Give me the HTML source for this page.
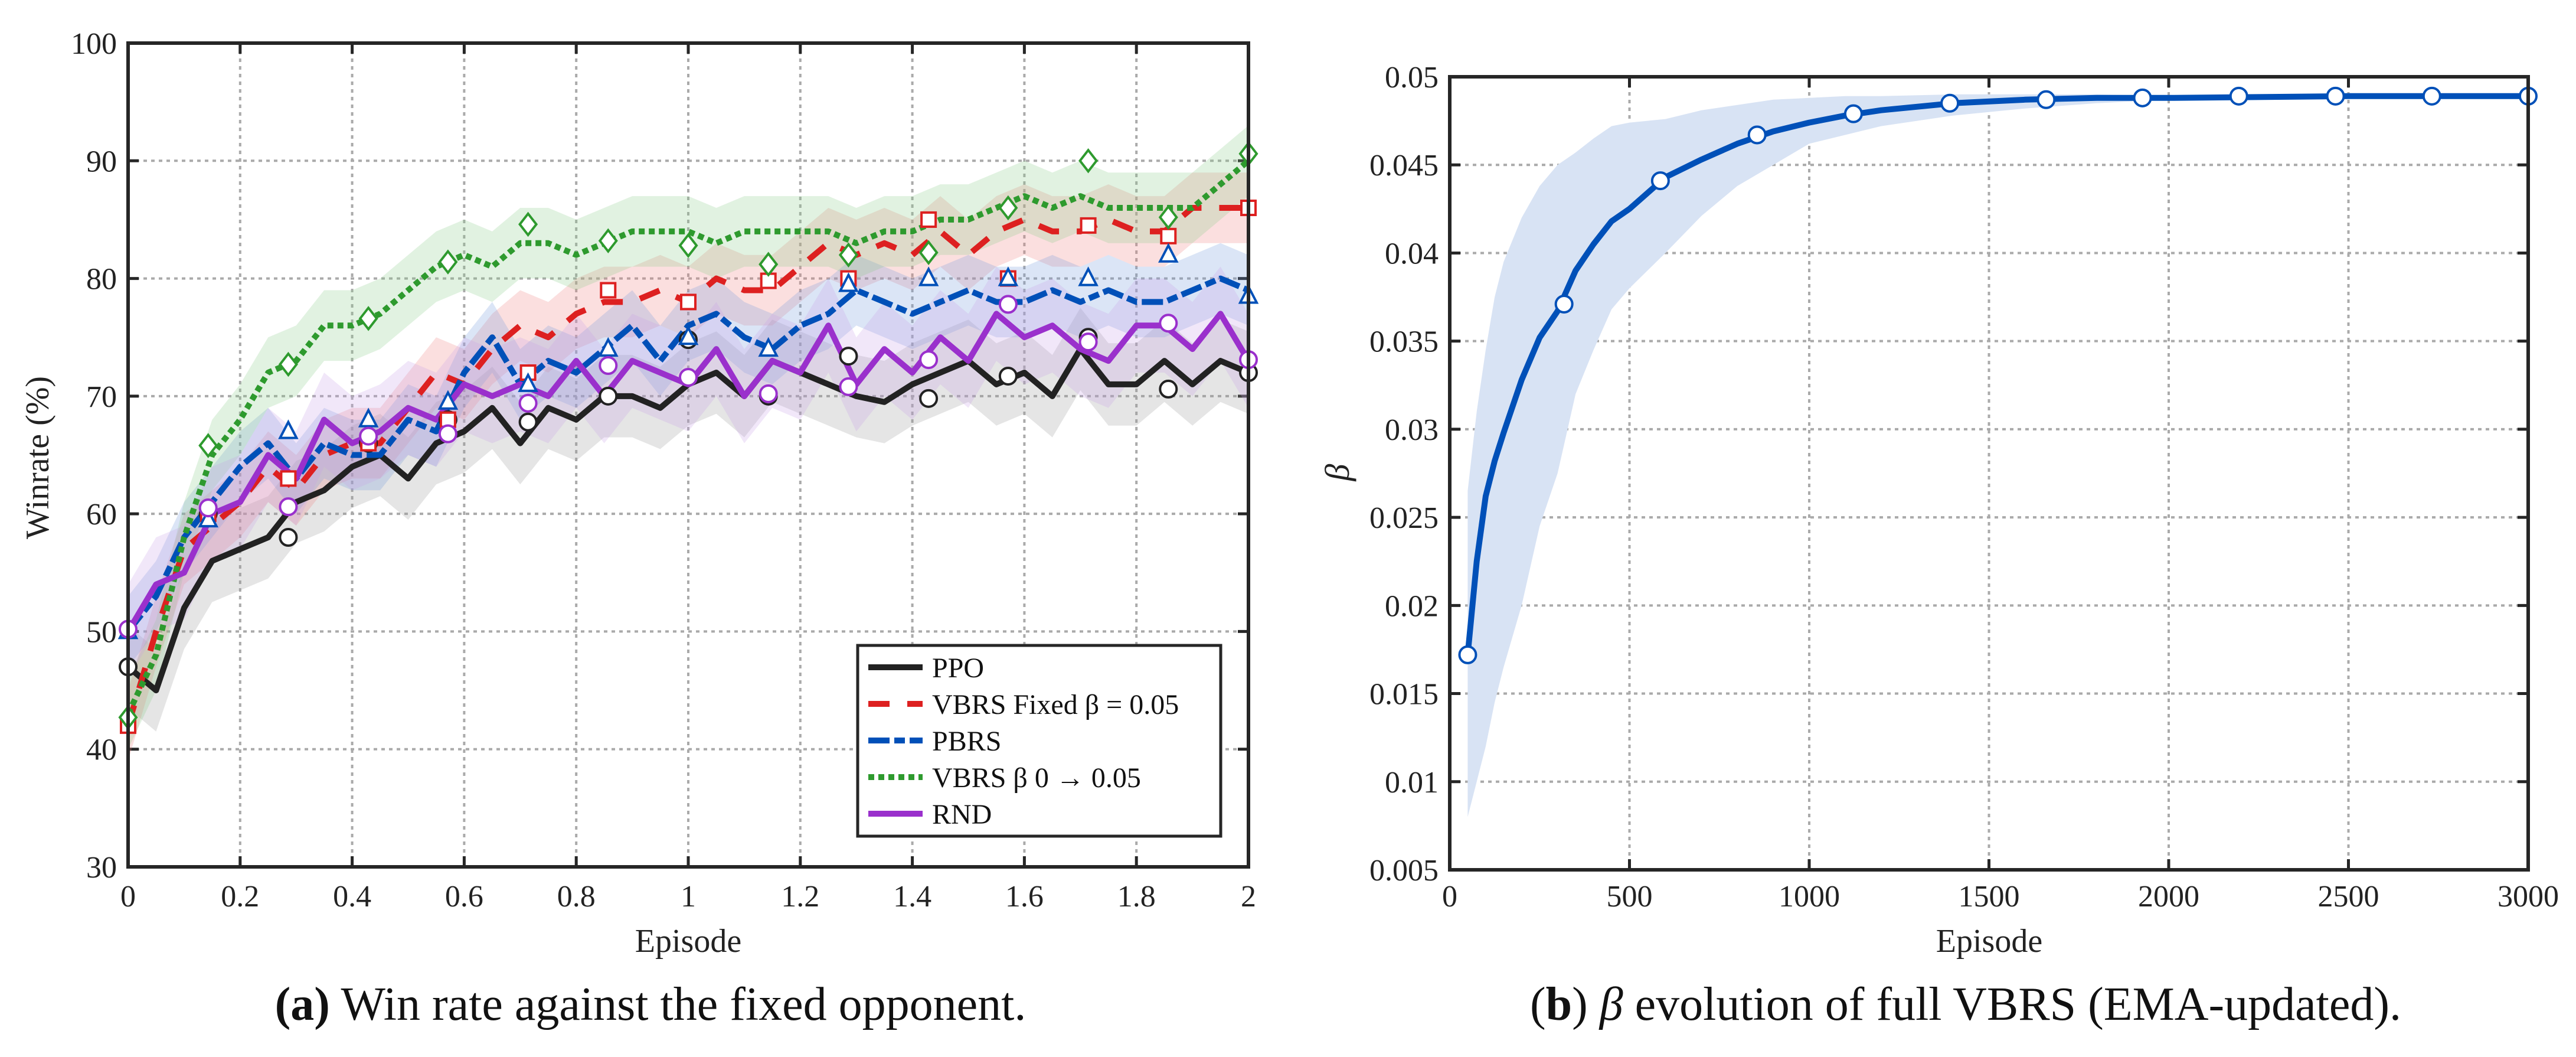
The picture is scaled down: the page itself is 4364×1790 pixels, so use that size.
<!DOCTYPE html>
<html><head><meta charset="utf-8"><style>
html,body{margin:0;padding:0;background:#fff;}
svg{display:block;font-family:"Liberation Serif",serif;}
</style></head><body>
<svg id="fig" width="4364" height="1790" viewBox="0 0 4364 1790" xmlns="http://www.w3.org/2000/svg">
<g id="left"></g>
<g id="right"></g>
<text x="1102" y="1727" font-size="80" text-anchor="middle" fill="#111"><tspan font-weight="bold">(a)</tspan> Win rate against the fixed opponent.</text>
<text x="3330" y="1727" font-size="80" text-anchor="middle" fill="#111">(<tspan font-weight="bold">b</tspan>) <tspan font-style="italic">β</tspan> evolution of full VBRS (EMA-updated).</text>
</svg>
<script>
// ---------- Left chart data ----------
const leftX = [0,0.05,0.1,0.15,0.2,0.25,0.3,0.35,0.4,0.45,0.5,0.55,0.6,0.65,0.7,0.75,0.8,0.85,0.9,0.95,1,1.05,1.1,1.15,1.2,1.25,1.3,1.35,1.4,1.45,1.5,1.55,1.6,1.65,1.7,1.75,1.8,1.85,1.9,1.95,2];
const ppoVals = [47,45,52,56,57,58,61,62,64,65,63,66,67,69,66,69,68,70,70,69,71,72,70,73,72,71,70,69.5,71,72,73,71,72,70,74,71,71,73,71,73,72];
const rndVals = [50,54,55,60,61,65,63,68,66,67,69,68,71,70,71,70,73,70,73,72,71,74,70,73,72,76,71,74,72,75,73,77,75,76,74,73,76,76,74,77,73];
const pbrsVals = [50,53,58,61,64,66,63,66,65,65,68,67,72,75,71,73,72,74,76,73,76,77,75,74,76,77,79,78,77,78,79,78,78,79,78,79,78,78,79,80,79];
const fixedVals = [42,50,57,59,61,64,62,65,66,66,69,72,71,74,76,75,77,78,78,79,78,80,79,79,81,83,82,83,82,84,82,84,85,84,84,85,84,84,86,86,86];
const annealVals = [43,48,58,65,68,72,73,76,76,77,79,81,82,81,83,83,82,83,84,84,84,83,84,84,84,84,83,84,84,85,85,86,87,86,87,86,86,86,86,88,90];
const markerX = [0,0.143,0.286,0.429,0.571,0.714,0.857,1,1.143,1.286,1.429,1.571,1.714,1.857,2];
const ppoMarks = [47,60,58,66,68,67.8,70,74.8,70,73.4,69.8,71.7,75,70.6,72];
const rndMarks = [50.2,60.5,60.6,66.6,66.8,69.4,72.6,71.6,70.2,70.8,73.1,77.8,74.6,76.2,73.1];
const pbrsMarks = [50,59.5,67,68,69.5,71,74,75,74,79.5,80,80,80,82,78.5];
const fixedMarks = [42,60,63,66,68,72,79,78,79.8,80,85,80,84.5,83.6,86];
const annealMarks = [42.7,65.8,72.7,76.6,81.4,84.6,83.2,82.8,81.2,82,82.2,86,90,85.2,90.6];
const bandSpread = [3.5,3,3,3,4];
const leftXTicks = [0,0.2,0.4,0.6,0.8,1,1.2,1.4,1.6,1.8,2];
const leftXTickLabels = ["0","0.2","0.4","0.6","0.8","1","1.2","1.4","1.6","1.8","2"];
const leftYTicks = [30,40,50,60,70,80,90,100];
const legendLabels = ["PPO","VBRS Fixed β = 0.05","PBRS","VBRS β 0 → 0.05","RND"];

// ---------- Right chart data ----------
const betaEp = [50,75,100,125,150,200,250,300,350,400,450,500,600,700,800,900,1000,1100,1200,1400,1600,1800,2000,2500,3000];
const betaVals = [0.0172,0.0225,0.0262,0.0282,0.0298,0.0328,0.0352,0.0367,0.0390,0.0405,0.0418,0.0425,0.0443,0.0453,0.0462,0.0469,0.0474,0.0478,0.0481,0.0485,0.0487,0.0488,0.0488,0.0489,0.0489];
const betaUpper = [0.0265,0.031,0.0345,0.0375,0.0395,0.042,0.0438,0.045,0.0457,0.0465,0.0472,0.0474,0.0476,0.0481,0.0484,0.0487,0.0488,0.0489,0.0489,0.049,0.049,0.049,0.0489,0.0489,0.0489];
const betaLower = [0.008,0.010,0.012,0.0145,0.0165,0.020,0.0245,0.0275,0.032,0.0345,0.0368,0.038,0.040,0.0421,0.0438,0.045,0.0462,0.0467,0.0472,0.0478,0.0482,0.0485,0.0487,0.0489,0.0489];
const betaMarkEp = [50,318,586,855,1123,1391,1659,1927,2195,2464,2732,3000];
const betaMarkVals = [0.0172,0.0371,0.0441,0.0467,0.0479,0.0485,0.0487,0.0488,0.0489,0.0489,0.0489,0.0489];
const rightXTicks = [0,500,1000,1500,2000,2500,3000];
const rightYTicks = [0.005,0.01,0.015,0.02,0.025,0.03,0.035,0.04,0.045,0.05];
const rightYTickLabels = ["0.005","0.01","0.015","0.02","0.025","0.03","0.035","0.04","0.045","0.05"];

const NS = "http://www.w3.org/2000/svg";
function mk(parent, tag, attrs){const e=document.createElementNS(NS,tag);for(const k in attrs)e.setAttribute(k,attrs[k]);parent.appendChild(e);return e;}

// ---------- Left chart ----------
const L = document.getElementById('left');
const lx0=217,lx1=2115,ly0=73,ly1=1468;
const lxs = v => lx0 + (v-0)/(2-0)*(lx1-lx0);
const lys = v => ly1 - (v-30)/(100-30)*(ly1-ly0);
leftXTicks.forEach((t,i)=>{
  const x=lxs(t);
  if(i>0&&i<leftXTicks.length-1){
    const g=mk(L,'line',{x1:x,y1:ly0,x2:x,y2:ly1,stroke:'#aaa','stroke-width':4,'stroke-dasharray':'6 7'});
    
    
    mk(L,'line',{x1:x,y1:ly1,x2:x,y2:ly1-18,stroke:'#262626','stroke-width':5});
    mk(L,'line',{x1:x,y1:ly0,x2:x,y2:ly0+18,stroke:'#262626','stroke-width':5});
  }
  const tx=mk(L,'text',{x:x,y:1535,'font-size':52,'text-anchor':'middle',fill:'#222'});
  tx.textContent=leftXTickLabels[i];
  
  
});
leftYTicks.forEach((t,i)=>{
  const y=lys(t);
  if(i>0&&i<leftYTicks.length-1){
    const g=mk(L,'line',{x1:lx0,y1:y,x2:lx1,y2:y,stroke:'#aaa','stroke-width':4,'stroke-dasharray':'6 7'});
    
    
    mk(L,'line',{x1:lx0,y1:y,x2:lx0+18,y2:y,stroke:'#262626','stroke-width':5});
    mk(L,'line',{x1:lx1,y1:y,x2:lx1-18,y2:y,stroke:'#262626','stroke-width':5});
  }
  const tx=mk(L,'text',{x:198,y:y+18,'font-size':52,'text-anchor':'end',fill:'#222'});
  tx.textContent=String(t);
  
  
});
const series = [
 {name:'ppo',vals:ppoVals,marks:ppoMarks,color:'#222222',band:'#999999',dash:'',marker:'circle'},
 {name:'vbrs-fixed',vals:fixedVals,marks:fixedMarks,color:'#dd2020',band:'#ee8080',dash:'36 30',marker:'square'},
 {name:'pbrs',vals:pbrsVals,marks:pbrsMarks,color:'#0050b8',band:'#7099dd',dash:'36 8 18 8',marker:'triangle'},
 {name:'vbrs-anneal',vals:annealVals,marks:annealMarks,color:'#2e9a2e',band:'#88cc88',dash:'10 7',marker:'diamond'},
 {name:'rnd',vals:rndVals,marks:rndMarks,color:'#9a30cc',band:'#c9a0e8',dash:'',marker:'circle'}
];
// bands
series.forEach((s,si)=>{
  const sp=bandSpread[si];
  let d='';
  leftX.forEach((x,i)=>{d+=(i?'L':'M')+lxs(x).toFixed(1)+','+lys(s.vals[i]+sp).toFixed(1);});
  for(let i=leftX.length-1;i>=0;i--){d+='L'+lxs(leftX[i]).toFixed(1)+','+lys(s.vals[i]-sp).toFixed(1);}
  const p=mk(L,'path',{d:d+'Z',fill:s.band,'fill-opacity':0.25,stroke:'none'});
  
  
});
// lines
series.forEach((s)=>{
  const pts=leftX.map((x,i)=>lxs(x).toFixed(1)+','+lys(s.vals[i]).toFixed(1)).join(' ');
  const a={points:pts,fill:'none',stroke:s.color,'stroke-width':10,'stroke-linejoin':'round'};
  if(s.dash)a['stroke-dasharray']=s.dash;
  const p=mk(L,'polyline',a);
  
  
});
// markers
function marker(parent,type,x,y,color){
  let e;
  if(type==='circle')e=mk(parent,'circle',{cx:x,cy:y,r:14,fill:'#fff',stroke:color,'stroke-width':4});
  else if(type==='square')e=mk(parent,'rect',{x:x-12,y:y-12,width:24,height:24,fill:'#fff',stroke:color,'stroke-width':4});
  else if(type==='triangle')e=mk(parent,'polygon',{points:`${x},${y-16} ${x+14},${y+11} ${x-14},${y+11}`,fill:'#fff',stroke:color,'stroke-width':4});
  else e=mk(parent,'polygon',{points:`${x},${y-18} ${x+14},${y} ${x},${y+18} ${x-14},${y}`,fill:'#fff',stroke:color,'stroke-width':4});
  return e;
}
series.forEach((s)=>{
  markerX.forEach((x,i)=>{
    const e=marker(L,s.marker,lxs(x),lys(s.marks[i]),s.color);
    
    
  });
});
// frame
const fr=mk(L,'rect',{x:lx0,y:ly0,width:lx1-lx0,height:ly1-ly0,fill:'none',stroke:'#262626','stroke-width':6});


// legend
const lg=mk(L,'g',{});


mk(lg,'rect',{x:1453,y:1093,width:615,height:323,fill:'#fff',stroke:'#262626','stroke-width':5});
legendLabels.forEach((lab,i)=>{
  const y=1130+i*62;
  const s=series[i];
  const a={x1:1471,y1:y,x2:1563,y2:y,stroke:s.color,'stroke-width':10};
  if(s.dash)a['stroke-dasharray']=s.dash;
  const ln=mk(lg,'line',a);
  
  
  const t=mk(lg,'text',{x:1579,y:y+17,'font-size':48,fill:'#111'});
  t.textContent=lab;
  
  
});
const xl=mk(L,'text',{x:1166,y:1612,'font-size':56,'text-anchor':'middle',fill:'#222'});
xl.textContent='Episode';


const yl=mk(L,'text',{x:0,y:0,'font-size':56,'text-anchor':'middle',fill:'#222',transform:'translate(82,775) rotate(-90)'});
yl.textContent='Winrate (%)';



// ---------- Right chart ----------
const R=document.getElementById('right');
const rx0=2456,rx1=4283,ry0=130,ry1=1473;
const rxs=v=>rx0+(v-0)/(3000-0)*(rx1-rx0);
const rys=v=>ry1-(v-0.005)/(0.05-0.005)*(ry1-ry0);
rightXTicks.forEach((t,i)=>{
  const x=rxs(t);
  if(i>0&&i<rightXTicks.length-1){
    const g=mk(R,'line',{x1:x,y1:ry0,x2:x,y2:ry1,stroke:'#aaa','stroke-width':4,'stroke-dasharray':'6 7'});
    
    
    mk(R,'line',{x1:x,y1:ry1,x2:x,y2:ry1-18,stroke:'#262626','stroke-width':5});
    mk(R,'line',{x1:x,y1:ry0,x2:x,y2:ry0+18,stroke:'#262626','stroke-width':5});
  }
  const tx=mk(R,'text',{x:x,y:1535,'font-size':52,'text-anchor':'middle',fill:'#222'});
  tx.textContent=String(t);
  
  
});
rightYTicks.forEach((t,i)=>{
  const y=rys(t);
  if(i>0&&i<rightYTicks.length-1){
    const g=mk(R,'line',{x1:rx0,y1:y,x2:rx1,y2:y,stroke:'#aaa','stroke-width':4,'stroke-dasharray':'6 7'});
    
    
    mk(R,'line',{x1:rx0,y1:y,x2:rx0+18,y2:y,stroke:'#262626','stroke-width':5});
    mk(R,'line',{x1:rx1,y1:y,x2:rx1-18,y2:y,stroke:'#262626','stroke-width':5});
  }
  const tx=mk(R,'text',{x:2437,y:y+18,'font-size':52,'text-anchor':'end',fill:'#222'});
  tx.textContent=rightYTickLabels[i];
  
  
});
{
  let d='';
  betaEp.forEach((e,i)=>{d+=(i?'L':'M')+rxs(e).toFixed(1)+','+rys(betaUpper[i]).toFixed(1);});
  for(let i=betaEp.length-1;i>=0;i--)d+='L'+rxs(betaEp[i]).toFixed(1)+','+rys(betaLower[i]).toFixed(1);
  const p=mk(R,'path',{d:d+'Z',fill:'#d8e3f4',stroke:'none'});
  
  
  const pts=betaEp.map((e,i)=>rxs(e).toFixed(1)+','+rys(betaVals[i]).toFixed(1)).join(' ');
  const ln=mk(R,'polyline',{points:pts,fill:'none',stroke:'#0050b8','stroke-width':10,'stroke-linejoin':'round'});
  
  
  betaMarkEp.forEach((e,i)=>{
    const c=mk(R,'circle',{cx:rxs(e),cy:rys(betaMarkVals[i]),r:14,fill:'#fff',stroke:'#0050b8','stroke-width':4});
    
    
  });
}
const fr2=mk(R,'rect',{x:rx0,y:ry0,width:rx1-rx0,height:ry1-ry0,fill:'none',stroke:'#262626','stroke-width':6});


const xl2=mk(R,'text',{x:3370,y:1612,'font-size':56,'text-anchor':'middle',fill:'#222'});
xl2.textContent='Episode';


const yl2=mk(R,'text',{x:0,y:0,'font-size':58,'font-style':'italic','text-anchor':'middle',fill:'#222',transform:'translate(2285,800) rotate(-90)'});
yl2.textContent='β';


</script>
</body></html>
